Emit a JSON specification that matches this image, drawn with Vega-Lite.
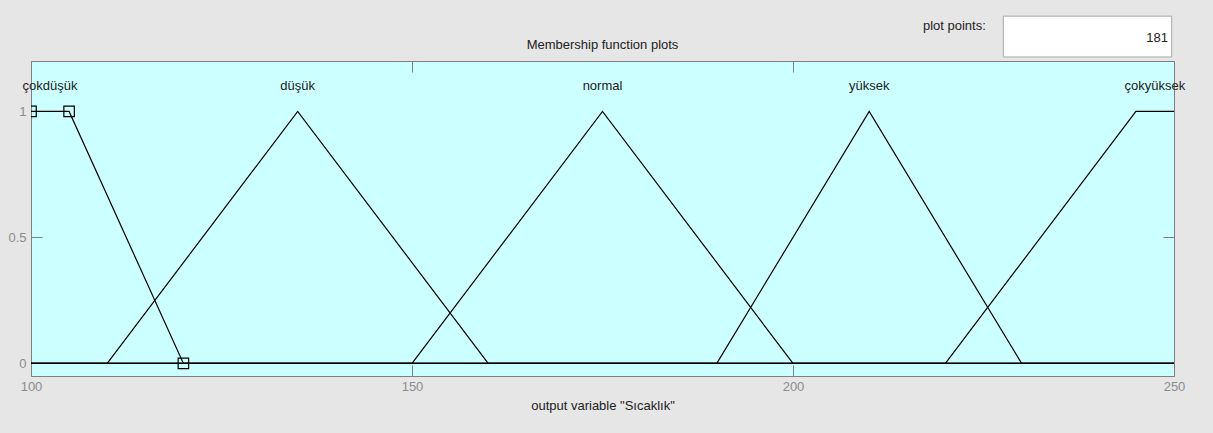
{
  "$schema": "https://vega.github.io/schema/vega-lite/v6.json",
  "width": 1143,
  "height": 315,
  "autosize": {"type": "none"},
  "padding": {"left": 31, "top": 61, "right": 39, "bottom": 57},
  "background": "#e6e6e6",
  "config": {
    "view": {"fill": "#ccffff", "stroke": "#7f7f7f", "strokeWidth": 1},
    "font": "Liberation Sans",
    "axis": {"grid": false, "domain": false, "tickColor": "#7f7f7f", "tickSize": -11, "labelColor": "#8c8c8c", "labelFontSize": 13, "labelFont": "Liberation Sans", "titleFont": "Liberation Sans", "titleFontSize": 13, "titleFontWeight": "normal", "titleColor": "#222222"}
  },
  "title": {"text": "Membership function plots", "fontSize": 13, "fontWeight": "normal", "color": "#222222", "offset": -36, "anchor": "middle", "font": "Liberation Sans"},
  "resolve": {"axis": {"x": "independent", "y": "independent"}},
  "datasets": {
    "mf": [
      {"mf": "çokdüşük", "i": 0, "x": 100, "y": 1},
      {"mf": "çokdüşük", "i": 1, "x": 105, "y": 1},
      {"mf": "çokdüşük", "i": 2, "x": 120, "y": 0},
      {"mf": "çokdüşük", "i": 3, "x": 250, "y": 0},
      {"mf": "düşük", "i": 0, "x": 100, "y": 0},
      {"mf": "düşük", "i": 1, "x": 110, "y": 0},
      {"mf": "düşük", "i": 2, "x": 135, "y": 1},
      {"mf": "düşük", "i": 3, "x": 160, "y": 0},
      {"mf": "düşük", "i": 4, "x": 250, "y": 0},
      {"mf": "normal", "i": 0, "x": 100, "y": 0},
      {"mf": "normal", "i": 1, "x": 150, "y": 0},
      {"mf": "normal", "i": 2, "x": 175, "y": 1},
      {"mf": "normal", "i": 3, "x": 200, "y": 0},
      {"mf": "normal", "i": 4, "x": 250, "y": 0},
      {"mf": "yüksek", "i": 0, "x": 100, "y": 0},
      {"mf": "yüksek", "i": 1, "x": 190, "y": 0},
      {"mf": "yüksek", "i": 2, "x": 210, "y": 1},
      {"mf": "yüksek", "i": 3, "x": 230, "y": 0},
      {"mf": "yüksek", "i": 4, "x": 250, "y": 0},
      {"mf": "çokyüksek", "i": 0, "x": 100, "y": 0},
      {"mf": "çokyüksek", "i": 1, "x": 220, "y": 0},
      {"mf": "çokyüksek", "i": 2, "x": 245, "y": 1},
      {"mf": "çokyüksek", "i": 3, "x": 250, "y": 1}
    ],
    "handles": [
      {"x": 100, "y": 1},
      {"x": 105, "y": 1},
      {"x": 120, "y": 0}
    ],
    "labels": [
      {"label": "çokdüşük", "x": 102.5, "y": 1.1},
      {"label": "düşük", "x": 135, "y": 1.1},
      {"label": "normal", "x": 175, "y": 1.1},
      {"label": "yüksek", "x": 210, "y": 1.1},
      {"label": "çokyüksek", "x": 247.5, "y": 1.1}
    ],
    "box": [{"field": "plot points:", "value": "181"}]
  },
  "layer": [
    {
      "data": {"name": "mf"},
      "mark": {"type": "line", "color": "#000000", "strokeWidth": 1.2},
      "encoding": {
        "x": {"field": "x", "type": "quantitative", "scale": {"domain": [100, 250], "nice": false, "zero": false},
              "axis": {"orient": "bottom", "values": [100, 150, 200, 250], "title": "output variable \"Sıcaklık\"", "labelPadding": 15, "titlePadding": 6, "labelFlush": false}},
        "y": {"field": "y", "type": "quantitative", "scale": {"domain": [-0.05, 1.2], "nice": false, "zero": false},
              "axis": {"orient": "left", "values": [0, 0.5, 1], "format": "~g", "title": null, "labelPadding": 16}},
        "detail": {"field": "mf"},
        "order": {"field": "i"}
      }
    },
    {
      "data": {"name": "handles"},
      "mark": {"type": "point", "shape": "square", "filled": false, "stroke": "#000000", "strokeWidth": 1.2, "size": 110, "opacity": 1, "clip": true},
      "encoding": {
        "x": {"field": "x", "type": "quantitative", "axis": null},
        "y": {"field": "y", "type": "quantitative", "axis": null}
      }
    },
    {
      "data": {"name": "labels"},
      "mark": {"type": "text", "fontSize": 13, "color": "#222222", "baseline": "middle", "align": "center", "font": "Liberation Sans"},
      "encoding": {
        "x": {"field": "x", "type": "quantitative", "axis": {"orient": "top", "values": [100, 150, 200, 250], "labels": false, "title": null}},
        "y": {"field": "y", "type": "quantitative", "axis": {"orient": "right", "values": [0, 0.5, 1], "labels": false, "title": null}},
        "text": {"field": "label"}
      }
    },
    {
      "data": {"name": "box"},
      "mark": {"type": "rect", "fill": "#ffffff", "stroke": "#a8a8a8", "strokeWidth": 1},
      "encoding": {
        "x": {"datum": 227.6, "type": "quantitative", "axis": null},
        "x2": {"datum": 249.7},
        "y": {"datum": 1.378, "type": "quantitative", "axis": null},
        "y2": {"datum": 1.216}
      }
    },
    {
      "data": {"name": "box"},
      "mark": {"type": "text", "fontSize": 13, "color": "#222222", "align": "right", "baseline": "middle", "font": "Liberation Sans"},
      "encoding": {
        "x": {"datum": 225.3, "type": "quantitative", "axis": null},
        "y": {"datum": 1.338, "type": "quantitative", "axis": null},
        "text": {"field": "field"}
      }
    },
    {
      "data": {"name": "box"},
      "mark": {"type": "text", "fontSize": 13, "color": "#222222", "align": "right", "baseline": "middle", "font": "Liberation Sans"},
      "encoding": {
        "x": {"datum": 249.2, "type": "quantitative", "axis": null},
        "y": {"datum": 1.291, "type": "quantitative", "axis": null},
        "text": {"field": "value"}
      }
    }
  ]
}
